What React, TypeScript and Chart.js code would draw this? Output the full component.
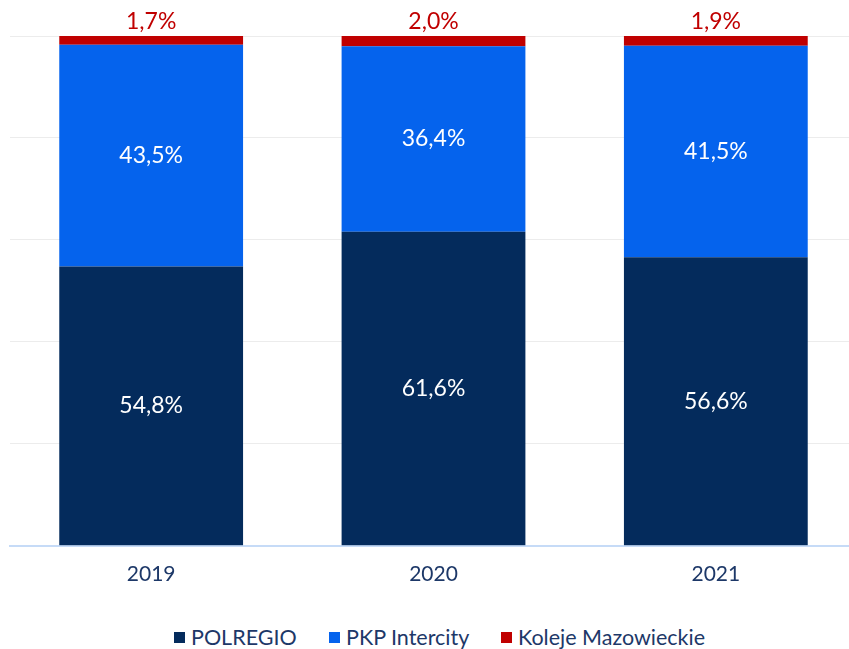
import React, { useEffect, useRef } from "react";
import { Chart, registerables } from "chart.js";

Chart.register(...registerables);

const years = ["2019", "2020", "2021"];
const polregio = [54.8, 61.6, 56.6];
const pkpIntercity = [43.5, 36.4, 41.5];
const kolejeMazowieckie = [1.7, 2.0, 1.9];
const seriesNames = ["POLREGIO", "PKP Intercity", "Koleje Mazowieckie"];
const seriesColors = ["#042b5c", "#0563ed", "#c00000"];
const legendX = [174, 329, 501];

const TEXT = "#1d3868";
const FONT = "Lato";

const fmt = (v: number) => v.toFixed(1).replace(".", ",") + "%";

const labelsPlugin = {
  id: "segLabels",
  afterDatasetsDraw(chart: any) {
    const ctx = chart.ctx;
    ctx.save();
    ctx.textAlign = "center";
    ctx.textBaseline = "middle";
    ctx.font = `23px ${FONT}`;
    chart.data.datasets.forEach((ds: any, di: number) => {
      const meta = chart.getDatasetMeta(di);
      meta.data.forEach((bar: any, i: number) => {
        const v = ds.data[i];
        const txt = fmt(v);
        if (di < 2) {
          ctx.fillStyle = "#ffffff";
          ctx.fillText(txt, bar.x, (bar.y + bar.base) / 2);
        } else {
          ctx.fillStyle = "#c00000";
          ctx.fillText(txt, bar.x, bar.y - 14);
        }
      });
    });
    ctx.restore();
  },
};

export default function App() {
  const ref = useRef<HTMLCanvasElement | null>(null);
  useEffect(() => {
    if (!ref.current) return;
    const chart = new Chart(ref.current, {
      type: "bar",
      data: {
        labels: years,
        datasets: [polregio, pkpIntercity, kolejeMazowieckie].map((d, i) => ({
          label: seriesNames[i],
          data: d,
          backgroundColor: seriesColors[i],
          borderWidth: 0,
          categoryPercentage: 1,
          barPercentage: 0.651,
        })),
      },
      options: {
        responsive: false,
        animation: false,
        layout: { padding: { left: 10, right: 13, top: 36, bottom: 17 } },
        plugins: {
          legend: { display: false },
          tooltip: { enabled: false },
        },
        scales: {
          x: {
            stacked: true,
            grid: { display: false, drawTicks: false },
            border: { display: true, color: "#c6dbf7", width: 2 },
            ticks: { color: TEXT, font: { family: FONT, size: 21 }, padding: 16 },
          },
          y: {
            stacked: true,
            min: 0,
            max: 100,
            ticks: { display: false, stepSize: 20 },
            grid: {
              drawTicks: false,
              color: (c: any) => (c.tick && c.tick.value === 0 ? "rgba(0,0,0,0)" : "#ececec"),
              lineWidth: 1,
            },
            border: { display: false },
          },
        },
      },
      plugins: [labelsPlugin],
    });
    return () => chart.destroy();
  }, []);

  return (
    <div
      style={{
        position: "fixed",
        left: 0,
        top: 0,
        width: 849,
        height: 649,
        overflow: "hidden",
        background: "#fff",
      }}
    >
      <div style={{ position: "absolute", left: 0, top: 0, width: 870, height: 620 }}>
        <canvas ref={ref} width={870} height={620} style={{ width: 870, height: 620 }} />
      </div>
      {seriesNames.map((n, i) => (
        <div
          key={n}
          style={{
            position: "absolute",
            left: legendX[i],
            top: 624,
            display: "flex",
            alignItems: "center",
            fontFamily: FONT,
            fontSize: 21.5,
            lineHeight: "26px",
            color: TEXT,
            whiteSpace: "nowrap",
          }}
        >
          <span
            style={{
              display: "inline-block",
              width: 11,
              height: 11,
              background: seriesColors[i],
              marginRight: 6,
            }}
          />
          <span>{n}</span>
        </div>
      ))}
    </div>
  );
}
